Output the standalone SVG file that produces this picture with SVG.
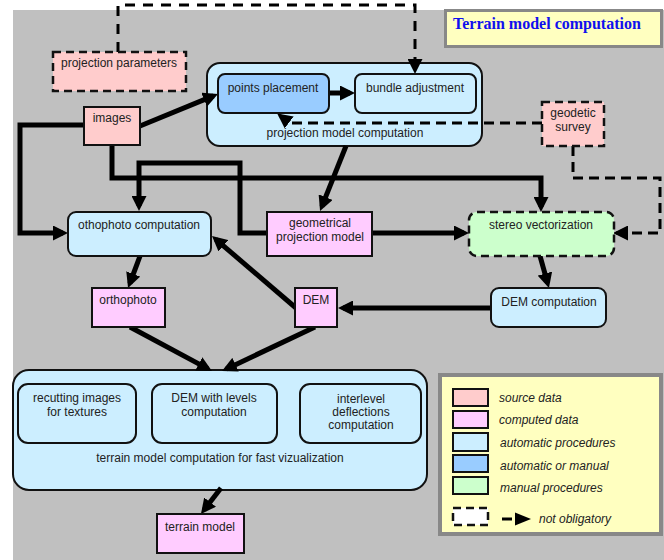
<svg xmlns="http://www.w3.org/2000/svg" width="664" height="560" viewBox="0 0 664 560">
<style>
.t{font-family:"Liberation Sans",Arial,sans-serif;font-size:12px;fill:#222;text-anchor:middle}
.li{font-family:"Liberation Sans",Arial,sans-serif;font-size:12px;fill:#222;font-style:italic}
.b{stroke:#111;stroke-width:2}
.d{stroke:#111;stroke-width:2.5;stroke-dasharray:8,5}
.src{fill:#ffcccc}.cmp{fill:#ffccff}.auto{fill:#cceeff}.am{fill:#99ccff}.man{fill:#ccffcc}
.thick{fill:none;stroke:#000;stroke-width:5;marker-end:url(#ah)}
.dash{fill:none;stroke:#000;stroke-width:3;stroke-dasharray:10,6;marker-end:url(#ahd)}
</style>
<defs>
<marker id="ah" markerUnits="userSpaceOnUse" markerWidth="15" markerHeight="15" refX="10" refY="7.5" orient="auto"><path d="M0,0 L15,7.5 L0,15 z" fill="#000"/></marker>
<marker id="ahd" markerUnits="userSpaceOnUse" markerWidth="15" markerHeight="15" refX="12" refY="7.5" orient="auto"><path d="M0,0 L15,7.5 L0,15 z" fill="#000"/></marker>
</defs>
<rect x="13" y="10" width="651" height="550" fill="#c0c0c0"/>
<g id="title">
<rect x="445.5" y="10.5" width="216" height="36" fill="#ffffc0" stroke="#888" stroke-width="3"/>
<text x="453" y="29" style="font-family:'Liberation Serif','Times New Roman',serif;font-size:16px;font-weight:bold;fill:#1010ee">Terrain model computation</text>
</g>
<g id="projection-model-computation">
<rect x="207" y="63" width="275" height="83" rx="13" class="auto b"/>
<text x="345" y="137" class="t">projection model computation</text>
</g>
<g id="terrain-container">
<rect x="13" y="370" width="414" height="120" rx="16" class="auto b"/>
<text x="220" y="462" class="t">terrain model computation for fast vizualization</text>
</g>
<g id="connectors">
<path class="thick" d="M140,126 L213.4,95.9"/>
<path class="thick" d="M329,93 L350,93"/>
<path class="thick" d="M84,125 L20,125 L20,233 L63,233"/>
<path class="thick" d="M112,145 L112,178 L541,178 L541,207"/>
<path class="thick" d="M268,233 L240,233 L240,163 L139,163 L139,206"/>
<path class="thick" d="M346,146 L321.9,206.4"/>
<path class="thick" d="M372,233 L464,233"/>
<path class="thick" d="M140,256 L129.8,283.3"/>
<path class="thick" d="M296,308 L215.8,239.3"/>
<path class="thick" d="M540,256 L547.6,283.2"/>
<path class="thick" d="M491,308 L343,308"/>
<path class="thick" d="M130,327 L207.6,368.6"/>
<path class="thick" d="M315,327 L226.5,368.9"/>
<path class="thick" d="M221,488 L204,510"/>
<path class="dash" d="M118,52 L118,5 L415,5 L415,71" style="stroke-dasharray:10,8"/>
<path class="dash" d="M542,123 L290,123 L279.6,115.2"/>
<path class="dash" d="M573,146 L573,178 L660,178 L660,233 L616,233"/>
</g>
<g id="projection-parameters">
<rect x="53" y="52" width="133" height="39" class="src d"/>
<text x="119" y="67" class="t">projection parameters</text>
</g>
<g id="images">
<rect x="84" y="107" width="56" height="38" class="src b"/>
<text x="112" y="122" class="t">images</text>
</g>
<g id="points-placement">
<rect x="218" y="74" width="111" height="39" rx="7" class="am b"/>
<text x="273" y="92" class="t">points placement</text>
</g>
<g id="bundle-adjustment">
<rect x="355" y="74" width="121" height="39" rx="7" class="auto b"/>
<text x="415" y="92" class="t">bundle adjustment</text>
</g>
<g id="geodetic-survey">
<rect x="542" y="102" width="62" height="44" class="src d"/>
<text x="573" y="117" class="t">geodetic</text>
<text x="573" y="131" class="t">survey</text>
</g>
<g id="othophoto-computation">
<rect x="68" y="212" width="143" height="44" rx="8" class="auto b"/>
<text x="139" y="229" class="t">othophoto computation</text>
</g>
<g id="geometrical-projection-model">
<rect x="267" y="212" width="105" height="44" class="cmp b"/>
<text x="320" y="227" class="t">geometrical</text>
<text x="320" y="241" class="t">projection model</text>
</g>
<g id="stereo-vectorization">
<rect x="469" y="212" width="145" height="44" rx="8" class="man d"/>
<text x="541" y="229" class="t">stereo vectorization</text>
</g>
<g id="orthophoto">
<rect x="92" y="288" width="73" height="39" class="cmp b"/>
<text x="128" y="304" class="t">orthophoto</text>
</g>
<g id="dem">
<rect x="295" y="288" width="42" height="39" class="cmp b"/>
<text x="316" y="304" class="t">DEM</text>
</g>
<g id="dem-computation">
<rect x="491" y="288" width="115" height="39" rx="8" class="auto b"/>
<text x="549" y="306" class="t">DEM computation</text>
</g>
<g id="recutting">
<rect x="18" y="384" width="118" height="59" rx="10" class="auto b"/>
<text x="77" y="402" class="t">recutting images</text>
<text x="77" y="416" class="t">for textures</text>
</g>
<g id="dem-levels">
<rect x="152" y="384" width="125" height="59" rx="10" class="auto b"/>
<text x="214" y="402" class="t">DEM with levels</text>
<text x="214" y="416" class="t">computation</text>
</g>
<g id="interlevel">
<rect x="300" y="384" width="121" height="59" rx="10" class="auto b"/>
<text x="361" y="403" class="t">interlevel</text>
<text x="361" y="416" class="t">deflections</text>
<text x="361" y="429" class="t">computation</text>
</g>
<g id="terrain-model">
<rect x="157" y="514" width="87" height="39" class="cmp b"/>
<text x="200" y="531" class="t">terrain model</text>
</g>
<g id="legend">
<rect x="440" y="375" width="221" height="159" fill="#ffffc0" stroke="#888" stroke-width="4"/>
<rect x="453" y="389" width="35" height="17" class="src b"/>
<rect x="453" y="411" width="35" height="17" class="cmp b"/>
<rect x="453" y="433" width="35" height="18" class="auto b"/>
<rect x="453" y="455" width="35" height="17" class="am b"/>
<rect x="453" y="477" width="35" height="17" class="man b"/>
<rect x="453" y="508" width="35" height="17" fill="#fff" class="d"/>
<text x="499" y="402" class="li">source data</text>
<text x="499" y="424" class="li">computed data</text>
<text x="500" y="447" class="li">automatic procedures</text>
<text x="500" y="470" class="li">automatic or manual</text>
<text x="500" y="492" class="li">manual procedures</text>
<line x1="502" y1="519" x2="512" y2="519" stroke="#000" stroke-width="3"/>
<path d="M515,512.5 L531,519 L515,525.5 z" fill="#000"/>
<text x="539" y="523" class="li">not obligatory</text>
</g>
</svg>
